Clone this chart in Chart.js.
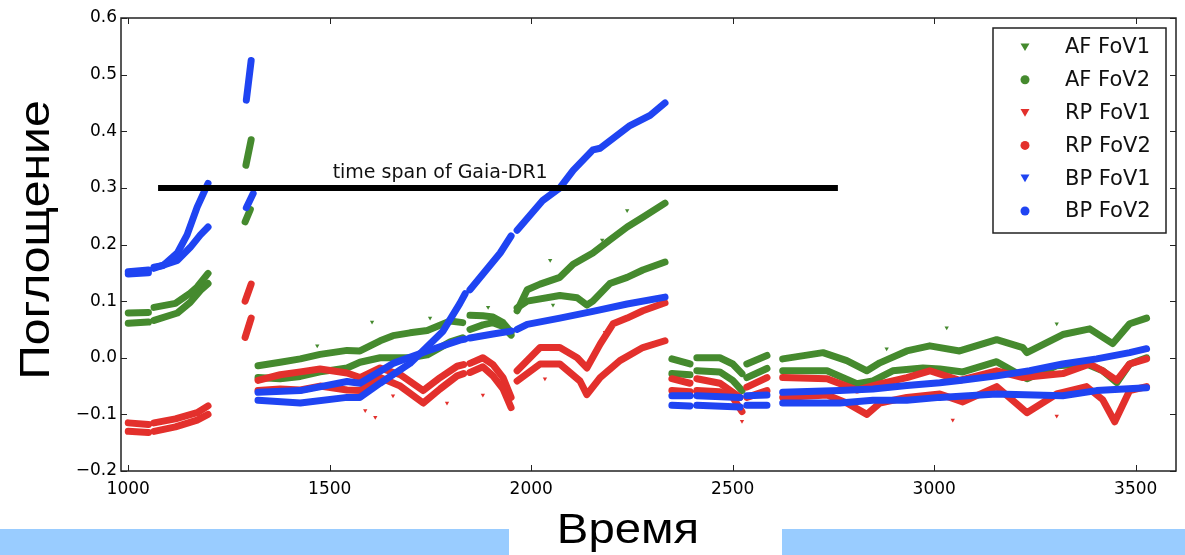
<!DOCTYPE html>
<html>
<head>
<meta charset="utf-8">
<script src="https://cdn.jsdelivr.net/npm/chart.js@4.4.1/dist/chart.umd.min.js"></script>
<style>
  html, body { margin: 0; padding: 0; background: #fff; }
  #wrap { position: relative; width: 1185px; height: 555px; }
</style>
</head>
<body>
<div id="wrap"><canvas id="absChart" width="1185" height="555"></canvas></div>
<script>
const afFov1 = [
  [1000, 0.079], [1050, 0.080], null,
  [1064, 0.089], [1087, 0.092], [1117, 0.096], [1154, 0.114], [1171, 0.125], [1198, 0.149], null,
  [1292, 0.340], [1305, 0.385], null,
  [1322, -0.014], [1377, -0.008], [1427, -0.002], [1476, 0.006], [1543, 0.013], [1575, 0.012], [1625, 0.030],
  [1657, 0.039], [1699, 0.044], [1742, 0.048], [1799, 0.065], [1830, 0.062], null,
  [1848, 0.075], [1880, 0.074], [1905, 0.072], [1930, 0.062], [1950, 0.045], null,
  [1965, 0.083], [1990, 0.120], [2022, 0.130], [2071, 0.142], [2104, 0.165], [2153, 0.185], [2195, 0.208],
  [2238, 0.231], [2277, 0.248], [2332, 0.273], null,
  [2349, -0.002], [2394, -0.011], null,
  [2411, 0.000], [2468, 0.000], [2500, -0.011], [2523, -0.028], null,
  [2535, -0.011], [2585, 0.004], null,
  [2624, -0.002], [2724, 0.009], [2783, -0.005], [2833, -0.023], [2865, -0.009], [2932, 0.012], [2989, 0.021],
  [3063, 0.012], [3155, 0.032], [3220, 0.018], [3230, 0.009], [3319, 0.041], [3386, 0.051], [3443, 0.025],
  [3485, 0.060], [3527, 0.070]
];
const afFov2 = [
  [1000, 0.061], [1050, 0.063], null,
  [1064, 0.066], [1122, 0.079], [1154, 0.098], [1179, 0.119], [1198, 0.131], null,
  [1290, 0.240], [1303, 0.262], null,
  [1322, -0.035], [1377, -0.037], [1427, -0.033], [1476, -0.025], [1543, -0.018], [1575, -0.008], [1625, 0.000],
  [1699, 0.000], [1742, 0.005], [1799, 0.028], [1830, 0.035], null,
  [1848, 0.050], [1880, 0.058], [1905, 0.062], [1930, 0.055], [1950, 0.040], null,
  [1965, 0.088], [1990, 0.100], [2071, 0.110], [2114, 0.106], [2138, 0.093], [2153, 0.100], [2195, 0.131],
  [2238, 0.142], [2277, 0.155], [2332, 0.169], null,
  [2349, -0.028], [2394, -0.030], null,
  [2411, -0.023], [2468, -0.025], [2500, -0.040], [2523, -0.058], null,
  [2535, -0.035], [2585, -0.019], null,
  [2624, -0.023], [2734, -0.023], [2808, -0.046], [2848, -0.041], [2897, -0.023], [2972, -0.018], [3014, -0.020],
  [3071, -0.025], [3155, -0.007], [3230, -0.037], [3304, -0.014], [3378, -0.011], [3418, -0.023], [3453, -0.044],
  [3485, -0.011], [3527, 0.000]
];
const rpFov1 = [
  [1000, -0.130], [1050, -0.132], null,
  [1064, -0.130], [1117, -0.122], [1171, -0.110], [1198, -0.100], null,
  [1290, 0.036], [1305, 0.070], null,
  [1322, -0.058], [1377, -0.055], [1427, -0.057], [1476, -0.050], [1543, -0.057], [1575, -0.058], [1625, -0.035],
  [1675, -0.050], [1732, -0.080], [1774, -0.055], [1816, -0.032], [1832, -0.028], null,
  [1848, -0.026], [1880, -0.016], [1905, -0.032], [1930, -0.055], [1950, -0.088], null,
  [1965, -0.041], [2022, -0.011], [2071, -0.011], [2121, -0.041], [2138, -0.065], [2171, -0.035], [2220, -0.005],
  [2277, 0.018], [2332, 0.030], null,
  [2349, -0.058], [2394, -0.060], null,
  [2411, -0.058], [2468, -0.060], [2500, -0.070], [2523, -0.095], null,
  [2535, -0.070], [2585, -0.058], null,
  [2624, -0.070], [2734, -0.066], [2783, -0.080], [2833, -0.100], [2865, -0.080], [2932, -0.070], [3014, -0.064],
  [3071, -0.078], [3155, -0.051], [3230, -0.097], [3304, -0.064], [3378, -0.051], [3418, -0.074], [3448, -0.113],
  [3485, -0.058], [3527, -0.051]
];
const rpFov2 = [
  [1000, -0.115], [1050, -0.118], null,
  [1064, -0.115], [1117, -0.108], [1171, -0.097], [1198, -0.085], null,
  [1290, 0.100], [1305, 0.130], null,
  [1322, -0.040], [1377, -0.030], [1427, -0.025], [1476, -0.020], [1543, -0.027], [1575, -0.035], [1625, -0.018],
  [1675, -0.030], [1732, -0.058], [1774, -0.035], [1816, -0.015], [1832, -0.012], null,
  [1848, -0.010], [1880, 0.000], [1905, -0.012], [1930, -0.035], [1950, -0.070], null,
  [1965, -0.023], [2022, 0.018], [2071, 0.018], [2114, 0.000], [2138, -0.018], [2171, 0.024], [2203, 0.060],
  [2238, 0.070], [2277, 0.083], [2332, 0.097], null,
  [2349, -0.037], [2394, -0.045], null,
  [2411, -0.037], [2468, -0.045], [2518, -0.070], null,
  [2535, -0.052], [2585, -0.035], null,
  [2624, -0.035], [2734, -0.037], [2808, -0.057], [2865, -0.046], [2932, -0.035], [2989, -0.023], [3063, -0.040],
  [3155, -0.023], [3220, -0.035], [3319, -0.028], [3386, -0.011], [3418, -0.023], [3453, -0.040], [3485, -0.011],
  [3527, -0.002]
];
const bpFov1 = [
  [1000, 0.152], [1050, 0.155], null,
  [1064, 0.160], [1087, 0.163], [1122, 0.185], [1146, 0.217], [1171, 0.266], [1198, 0.308], null,
  [1293, 0.455], [1305, 0.525], null,
  [1322, -0.075], [1427, -0.080], [1543, -0.070], [1575, -0.070], [1625, -0.045], [1699, -0.010], [1781, 0.047],
  [1823, 0.096], [1836, 0.113], null,
  [1848, 0.120], [1923, 0.185], [1950, 0.215], null,
  [1965, 0.225], [2029, 0.278], [2071, 0.300], [2104, 0.331], [2153, 0.367], [2171, 0.370], [2245, 0.410],
  [2295, 0.428], [2332, 0.450], null,
  [2349, -0.067], [2394, -0.067], null,
  [2411, -0.067], [2518, -0.070], null,
  [2535, -0.067], [2585, -0.066], null,
  [2624, -0.061], [2766, -0.058], [2848, -0.055], [2932, -0.049], [3014, -0.044], [3063, -0.040], [3155, -0.032],
  [3237, -0.023], [3319, -0.011], [3403, -0.002], [3485, 0.009], [3527, 0.016]
];
const bpFov2 = [
  [1000, 0.148], [1050, 0.150], null,
  [1064, 0.158], [1122, 0.172], [1154, 0.195], [1179, 0.217], [1198, 0.231], null,
  [1293, 0.265], [1310, 0.290], null,
  [1322, -0.061], [1427, -0.058], [1543, -0.042], [1575, -0.045], [1657, -0.010], [1742, 0.012], [1823, 0.031],
  [1836, 0.033], null,
  [1848, 0.035], [1905, 0.042], [1950, 0.047], null,
  [1965, 0.050], [1990, 0.059], [2071, 0.070], [2153, 0.082], [2238, 0.095], [2332, 0.107], null,
  [2349, -0.084], [2394, -0.085], null,
  [2411, -0.084], [2518, -0.087], null,
  [2535, -0.084], [2585, -0.084], null,
  [2624, -0.080], [2766, -0.080], [2848, -0.075], [2932, -0.075], [3014, -0.070], [3155, -0.064], [3319, -0.067],
  [3403, -0.058], [3527, -0.053]
];
// stray single measurements off the bands
const afStray = [[1469, 0.021], [1605, 0.063], [1749, 0.070], [1893, 0.089], [2047, 0.172], [2054, 0.093],
  [2176, 0.208], [2238, 0.260], [2882, 0.016], [3031, 0.053], [3304, 0.060], [3473, 0.053]];
const rpStray = [[1588, -0.093], [1613, -0.105], [1657, -0.067], [1791, -0.080], [1880, -0.066], [2034, -0.037],
  [2183, 0.045], [2523, -0.112], [3046, -0.110], [3304, -0.103]];

const gaiaSpan = [1074, 2761];
const gaiaLevel = 0.3;
const gaiaLabel = 'time span of Gaia-DR1';

const xTicks = [1000, 1500, 2000, 2500, 3000, 3500];
const yTicks = [-0.2, -0.1, 0.0, 0.1, 0.2, 0.3, 0.4, 0.5, 0.6];

const GREEN = '#458a2e', RED = '#e3302c', BLUE = '#1f44f2';

const series = [
  { label: 'AF FoV1', data: afFov1, color: GREEN, marker: 'tri', order: 3 },
  { label: 'AF FoV2', data: afFov2, color: GREEN, marker: 'dot', order: 3 },
  { label: 'RP FoV1', data: rpFov1, color: RED, marker: 'tri', order: 2 },
  { label: 'RP FoV2', data: rpFov2, color: RED, marker: 'dot', order: 2 },
  { label: 'BP FoV1', data: bpFov1, color: BLUE, marker: 'tri', order: 1 },
  { label: 'BP FoV2', data: bpFov2, color: BLUE, marker: 'dot', order: 1 },
];

function toPoints(arr) {
  return arr.map((p, i) => p ? { x: p[0], y: p[1] } : { x: arr[i - 1][0], y: null });
}

const datasets = series.map(s => ({
  label: s.label,
  data: toPoints(s.data),
  borderColor: s.color,
  borderWidth: 7,
  borderJoinStyle: 'round',
  borderCapStyle: 'round',
  pointRadius: 0,
  showLine: true,
  spanGaps: false,
  order: s.order,
}));
[[afStray, GREEN], [rpStray, RED]].forEach(([arr, c]) => datasets.push({
  label: 'stray',
  data: toPoints(arr),
  showLine: false,
  pointStyle: 'triangle',
  rotation: 180,
  pointRadius: 2.5,
  backgroundColor: c,
  borderColor: c,
  borderWidth: 0,
  order: 4,
}));
datasets.push({
  label: 'gaia',
  data: gaiaSpan.map(x => ({ x: x, y: gaiaLevel })),
  showLine: true,
  borderColor: '#000',
  borderWidth: 6,
  borderCapStyle: 'butt',
  pointRadius: 0,
  order: 0,
});

function marker(ctx, kind, x, y, r, color) {
  ctx.fillStyle = color;
  ctx.beginPath();
  if (kind === 'tri') {
    ctx.moveTo(x - r, y - r * 0.8);
    ctx.lineTo(x + r, y - r * 0.8);
    ctx.lineTo(x, y + r * 0.9);
    ctx.closePath();
  } else {
    ctx.arc(x, y, r, 0, Math.PI * 2);
  }
  ctx.fill();
}

const decor = {
  id: 'decor',
  beforeDraw(chart) {
    const ctx = chart.ctx;
    ctx.save();
    ctx.fillStyle = '#fff';
    ctx.fillRect(0, 0, chart.width, chart.height);
    // light blue strips along the bottom edge
    ctx.fillStyle = '#99ccff';
    ctx.fillRect(0, 529, 509, 26);
    ctx.fillRect(782, 529, 403, 26);
    ctx.restore();
  },
  afterDraw(chart) {
    const ctx = chart.ctx;
    const a = chart.chartArea;
    const xs = chart.scales.x, ys = chart.scales.y;
    ctx.save();

    // frame and inward ticks on all four sides
    ctx.strokeStyle = '#222';
    ctx.lineWidth = 1.5;
    ctx.strokeRect(a.left, a.top, a.right - a.left, a.bottom - a.top);
    ctx.lineWidth = 1;
    ctx.beginPath();
    xTicks.forEach(v => {
      const px = Math.round(xs.getPixelForValue(v)) + 0.5;
      ctx.moveTo(px, a.bottom); ctx.lineTo(px, a.bottom - 6);
      ctx.moveTo(px, a.top); ctx.lineTo(px, a.top + 6);
    });
    yTicks.forEach(v => {
      const py = Math.round(ys.getPixelForValue(v)) + 0.5;
      ctx.moveTo(a.left, py); ctx.lineTo(a.left + 6, py);
      ctx.moveTo(a.right, py); ctx.lineTo(a.right - 6, py);
    });
    ctx.stroke();

    // span label above the black bar
    ctx.fillStyle = '#111';
    ctx.font = '19px "DejaVu Sans"';
    ctx.textAlign = 'center';
    ctx.textBaseline = 'alphabetic';
    ctx.fillText(gaiaLabel, xs.getPixelForValue(1774), ys.getPixelForValue(gaiaLevel) - 10);

    // axis titles, set a little wide
    ctx.font = '43px "Liberation Sans"';
    ctx.fillStyle = '#000';
    ctx.textBaseline = 'middle';
    ctx.save();
    ctx.translate(628, 531);
    ctx.scale(1.1, 1);
    ctx.fillText('Время', 0, 0);
    ctx.restore();
    ctx.save();
    ctx.translate(37, 240);
    ctx.rotate(-Math.PI / 2);
    ctx.scale(1.12, 1);
    ctx.fillText('Поглощение', 0, 0);
    ctx.restore();

    // legend box in the upper right corner
    const bx = a.right - 183, by = a.top + 10, bw = 173, bh = 205;
    ctx.fillStyle = '#fff';
    ctx.fillRect(bx, by, bw, bh);
    ctx.strokeStyle = '#222';
    ctx.lineWidth = 1.5;
    ctx.strokeRect(bx, by, bw, bh);
    ctx.font = '21px "DejaVu Sans"';
    ctx.textAlign = 'left';
    ctx.textBaseline = 'middle';
    series.forEach((s, i) => {
      const ry = by + 19 + i * 32.8;
      marker(ctx, s.marker, bx + 32, ry, 4.5, s.color);
      ctx.fillStyle = '#111';
      ctx.fillText(s.label, bx + 72, ry + 1);
    });
    ctx.restore();
  }
};

new Chart(document.getElementById('absChart'), {
  type: 'scatter',
  data: { datasets: datasets },
  options: {
    responsive: false,
    animation: false,
    devicePixelRatio: 1,
    layout: { padding: { top: 18, right: 9, left: 0, bottom: 0 } },
    plugins: { legend: { display: false }, tooltip: { enabled: false } },
    scales: {
      x: {
        type: 'linear',
        min: 982,
        max: 3600,
        afterBuildTicks: axis => { axis.ticks = xTicks.map(v => ({ value: v })); },
        afterFit: axis => { axis.height = 84; },
        grid: { display: false, drawTicks: false },
        border: { display: false },
        ticks: {
          color: '#000',
          font: { family: 'DejaVu Sans', size: 17 },
          padding: 8,
          maxRotation: 0,
          callback: v => String(v),
        },
      },
      y: {
        type: 'linear',
        min: -0.2,
        max: 0.6,
        afterBuildTicks: axis => { axis.ticks = yTicks.map(v => ({ value: v })); },
        afterFit: axis => { axis.width = 121; },
        grid: { display: false, drawTicks: false },
        border: { display: false },
        ticks: {
          color: '#000',
          font: { family: 'DejaVu Sans', size: 17 },
          padding: 4,
          callback: v => v.toFixed(1).replace('-0.0', '0.0').replace('-', '\u2212'),
        },
      },
    },
  },
  plugins: [decor],
});
</script>
</body>
</html>
